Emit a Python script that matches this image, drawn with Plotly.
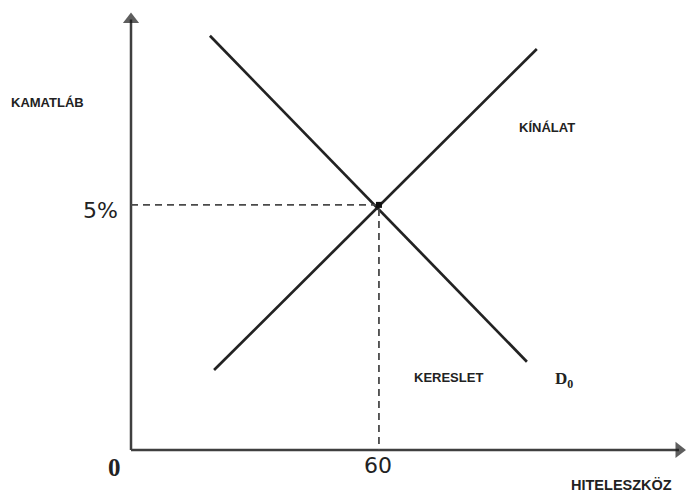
"""
Loanable funds market: supply and demand crossing at 5% / 60.
"""
import plotly.graph_objects as go

demand_x = [19.1, 95.8]
demand_y = [8.45, 1.80]
supply_x = [20.1, 98.2]
supply_y = [1.63, 8.18]
eq_x = 60
eq_y = 5
x_tick = "60"
y_tick = "5%"
x_end = 132.6
y_end = 8.78

LINE = "#222222"
AXIS = "#3f3f3f"
SANS = "Liberation Sans, Arial, sans-serif"
SERIF = "Liberation Serif, DejaVu Serif, serif"
TICKFONT = "DejaVu Sans, Verdana, sans-serif"

fig = go.Figure()

# axes, drawn as lines ending in an arrowhead
for ax_x, ax_y in [([0, 0], [0, y_end]), ([0, x_end], [0, 0])]:
    fig.add_trace(go.Scatter(
        x=ax_x, y=ax_y, mode="lines+markers",
        line=dict(color=AXIS, width=2.5),
        marker=dict(symbol="triangle-up", size=[0, 14], color="#1a1a1a",
                    angleref="previous", line=dict(width=0)),
        hoverinfo="skip"))

# demand and supply curves
fig.add_trace(go.Scatter(x=demand_x, y=demand_y, mode="lines",
                         line=dict(color=LINE, width=2.7), hoverinfo="skip"))
fig.add_trace(go.Scatter(x=supply_x, y=supply_y, mode="lines",
                         line=dict(color=LINE, width=2.7), hoverinfo="skip"))

# dashed guides to the equilibrium
fig.add_trace(go.Scatter(x=[0, eq_x, eq_x], y=[eq_y, eq_y, 0], mode="lines",
                         line=dict(color="#4a4a4a", width=1.8, dash="7px,5px"),
                         hoverinfo="skip"))
fig.add_trace(go.Scatter(x=[eq_x], y=[eq_y], mode="markers",
                         marker=dict(color="#111111", size=6, symbol="square"),
                         hoverinfo="skip"))

labels = [
    (-29.6, 7.08, "<b>KAMATLÁB</b>", "left", SANS, 13),
    (93.4, 6.57, "<b>KÍNÁLAT</b>", "left", SANS, 13),
    (68.0, 1.47, "<b>KERESLET</b>", "left", SANS, 13),
    (102.0, 1.43, "<b>D<sub>0</sub></b>", "left", SERIF, 17),
    (106.0, -0.71, "<b>HITELESZKÖZ</b>", "left", SANS, 14.5),
    (-2.6, 4.88, y_tick, "right", TICKFONT, 22),
    (eq_x - 0.3, -0.31, x_tick, "center", TICKFONT, 22),
    (-3.9, -0.36, "<b>0</b>", "center", SERIF, 25),
]
for x, y, text, anchor, family, size in labels:
    fig.add_annotation(x=x, y=y, text=text, xref="x", yref="y", showarrow=False,
                       xanchor=anchor, yanchor="middle",
                       font=dict(family=family, size=size, color="#222222"))

fig.update_xaxes(range=[-31.7, 134.3], visible=False, fixedrange=True)
fig.update_yaxes(range=[-0.96, 9.18], visible=False, fixedrange=True)
fig.update_layout(
    width=686, height=497,
    margin=dict(l=0, r=0, t=0, b=0),
    paper_bgcolor="white", plot_bgcolor="white",
    showlegend=False,
)

fig.write_html("out.html", config={"displayModeBar": False},
               post_script="document.body.style.margin='0';")
